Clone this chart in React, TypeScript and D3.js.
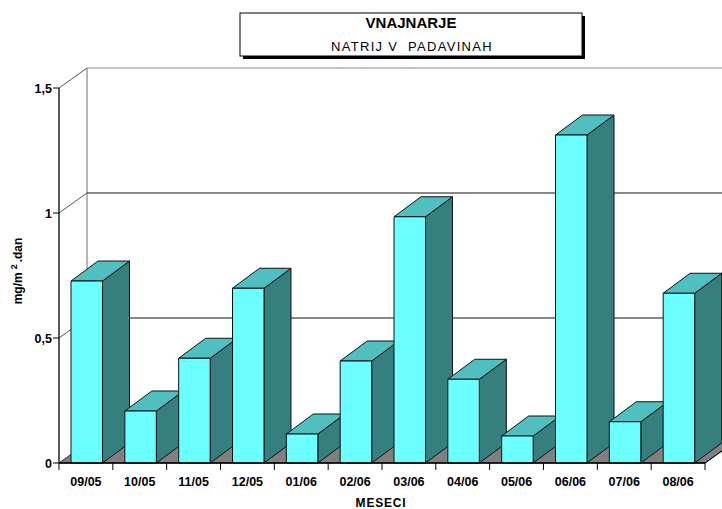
import React from "react";
import * as d3 from "d3";

const categories = ["09/05", "10/05", "11/05", "12/05", "01/06", "02/06", "03/06", "04/06", "05/06", "06/06", "07/06", "08/06"];
const values = [0.728, 0.208, 0.419, 0.699, 0.116, 0.408, 0.985, 0.335, 0.108, 1.312, 0.165, 0.679];
const yTicks = [0, 0.5, 1, 1.5];
const yTickLabels = ["0", "0,5", "1", "1,5"];

const W = 722, H = 509;
const DX = 28, DY = -20; // wall depth offset
const BDX = 27, BDY = -20; // bar depth offset

export default function App() {
  const x = d3.scaleBand<string>().domain(categories).range([59, 705]).padding(0);
  const y = d3.scaleLinear().domain([0, 1.5]).range([463, 88]);
  const step = x.step();
  const barOff = 12;
  const barW = 31.5;
  const xEnd = 705;
  const font = "'Liberation Sans', Arial, sans-serif";

  return (
    <svg width={W} height={H} style={{ position: "absolute", left: 0, top: 0, background: "#fff" }} fontFamily={font}>
      {/* back wall */}
      <line x1={59 + DX} y1={y(1.5) + DY} x2={W + 20} y2={y(1.5) + DY} stroke="#888" strokeWidth={1.2} />
      <line x1={59 + DX} y1={y(1.5) + DY} x2={59 + DX} y2={y(0) + DY} stroke="#888" strokeWidth={1.2} />
      {yTicks.filter((t) => t > 0 && t < 1.5).map((t) => (
        <line key={"g" + t} x1={59 + DX} y1={y(t) + DY} x2={W + 20} y2={y(t) + DY} stroke="#111" strokeWidth={1.2} />
      ))}
      {yTicks.filter((t) => t > 0).map((t) => (
        <line key={"d" + t} x1={59} y1={y(t)} x2={59 + DX} y2={y(t) + DY} stroke="#555" strokeWidth={1} />
      ))}
      {/* floor */}
      <polygon
        points={`59,${y(0)} ${xEnd},${y(0)} ${xEnd + DX},${y(0) + DY} ${59 + DX},${y(0) + DY}`}
        fill="#808080"
        stroke="#333"
        strokeWidth={1}
      />
      {/* bars */}
      {categories.map((c, i) => {
        const x0 = (x(c) as number) + barOff;
        const x1 = x0 + barW;
        const yt = y(values[i]);
        const yb = y(0);
        return (
          <g key={c} stroke="#111" strokeWidth={1} strokeLinejoin="round">
            <polygon
              points={`${x1},${yb} ${x1 + BDX},${yb + BDY} ${x1 + BDX},${yt + BDY} ${x1},${yt}`}
              fill="#357f7f"
            />
            <polygon
              points={`${x0},${yt} ${x1},${yt} ${x1 + BDX},${yt + BDY} ${x0 + BDX},${yt + BDY}`}
              fill="#50bfbf"
            />
            <rect x={x0} y={yt} width={barW} height={yb - yt} fill="#6bffff" />
          </g>
        );
      })}
      {/* axes */}
      <line x1={59} y1={y(1.5)} x2={59} y2={y(0)} stroke="#000" strokeWidth={1.3} />
      <line x1={59} y1={y(0)} x2={xEnd} y2={y(0)} stroke="#000" strokeWidth={1.3} />
      <line x1={xEnd} y1={y(0)} x2={xEnd + DX} y2={y(0) + DY} stroke="#000" strokeWidth={1} />
      {yTicks.map((t, i) => (
        <g key={"yt" + t}>
          <line x1={53} y1={y(t)} x2={59} y2={y(t)} stroke="#000" strokeWidth={1} />
          <text x={52} y={y(t) + 4.5} textAnchor="end" fontSize={12.5} fontWeight="bold" fill="#000">
            {yTickLabels[i]}
          </text>
        </g>
      ))}
      {d3.range(categories.length + 1).map((i) => (
        <line key={"xt" + i} x1={59 + i * step} y1={y(0)} x2={59 + i * step} y2={y(0) + 7} stroke="#000" strokeWidth={1} />
      ))}
      {categories.map((c) => (
        <text key={"xl" + c} x={(x(c) as number) + step / 2} y={486} textAnchor="middle" fontSize={12.5} fontWeight="bold" fill="#000">
          {c}
        </text>
      ))}
      <text x={381} y={507} textAnchor="middle" fontSize={12} fontWeight="bold" letterSpacing={0.8} fill="#000">
        MESECI
      </text>
      <text transform="translate(22,271) rotate(-90)" textAnchor="middle" fontSize={12} fontWeight="bold" fill="#000">
        mg/m<tspan dx={3} dy={-5} fontSize={9}>2</tspan><tspan dx={2} dy={5}>.dan</tspan>
      </text>
      {/* title */}
      <rect x={243} y={16} width={342} height={43} fill="#000" />
      <rect x={240} y={13} width={342} height={43} fill="#fff" stroke="#000" strokeWidth={1} />
      <text x={411} y={28} textAnchor="middle" fontSize={15} fontWeight="bold" fill="#000">
        VNAJNARJE
      </text>
      <text x={412} y={51} textAnchor="middle" fontSize={13} letterSpacing={1.3} fill="#000" style={{ whiteSpace: "pre" }}>
        {"NATRIJ V  PADAVINAH"}
      </text>
    </svg>
  );
}
